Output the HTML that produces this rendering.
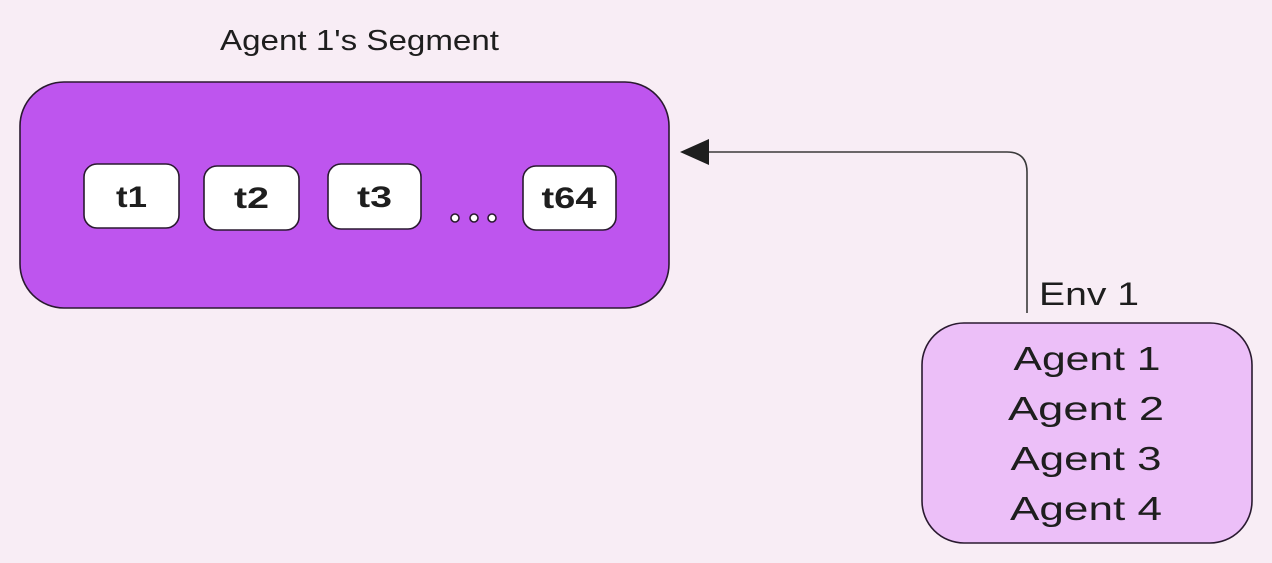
<!DOCTYPE html>
<html>
<head>
<meta charset="utf-8">
<style>
  html,body{margin:0;padding:0;background:#f8edf5;}
  svg{display:block;}
  text{font-family:"Liberation Sans","DejaVu Sans",sans-serif;fill:#1e1e1e;}
</style>
</head>
<body>
<svg width="1272" height="563" viewBox="0 0 1272 563" xmlns="http://www.w3.org/2000/svg">
  <rect x="0" y="0" width="1272" height="563" fill="#f8edf5"/>

  <!-- Title -->
  <text x="220" y="50" font-size="29" textLength="279" lengthAdjust="spacingAndGlyphs">Agent 1's Segment</text>

  <!-- Main segment box -->
  <rect x="20" y="82" width="649" height="226" rx="44" ry="44" fill="#be55ee" stroke="#2a1a30" stroke-width="1.6"/>

  <!-- Tokens -->
  <rect x="84" y="164" width="95" height="64" rx="13" fill="#ffffff" stroke="#2a1a30" stroke-width="1.6"/>
  <text x="131.5" y="207" font-size="30" text-anchor="middle" font-weight="bold" textLength="31" lengthAdjust="spacingAndGlyphs">t1</text>

  <rect x="204" y="166" width="95" height="64" rx="13" fill="#ffffff" stroke="#2a1a30" stroke-width="1.6"/>
  <text x="251.5" y="208" font-size="30" text-anchor="middle" font-weight="bold" textLength="35" lengthAdjust="spacingAndGlyphs">t2</text>

  <rect x="328" y="164" width="93" height="65" rx="13" fill="#ffffff" stroke="#2a1a30" stroke-width="1.6"/>
  <text x="374.5" y="207" font-size="30" text-anchor="middle" font-weight="bold" textLength="35" lengthAdjust="spacingAndGlyphs">t3</text>

  <circle cx="455" cy="218" r="4" fill="#ffffff" stroke="#2a1a30" stroke-width="1.6"/>
  <circle cx="474" cy="218" r="4" fill="#ffffff" stroke="#2a1a30" stroke-width="1.6"/>
  <circle cx="492" cy="218" r="4" fill="#ffffff" stroke="#2a1a30" stroke-width="1.6"/>

  <rect x="523" y="166" width="93" height="64" rx="13" fill="#ffffff" stroke="#2a1a30" stroke-width="1.6"/>
  <text x="569" y="208" font-size="30" text-anchor="middle" font-weight="bold" textLength="55" lengthAdjust="spacingAndGlyphs">t64</text>

  <!-- Connector -->
  <path d="M1027 313 L1027 172 Q1027 152 1007 152 L708 152" fill="none" stroke="#3a3a3a" stroke-width="1.6"/>
  <polygon points="680,152 709,139 709,165" fill="#1e1e1e"/>

  <!-- Env label -->
  <text x="1039" y="305" font-size="32" textLength="100" lengthAdjust="spacingAndGlyphs">Env 1</text>

  <!-- Env box -->
  <rect x="922" y="323" width="330" height="220" rx="42" ry="42" fill="#ecbff8" stroke="#2a1a30" stroke-width="1.6"/>
  <text x="1087" y="370" font-size="33" text-anchor="middle" textLength="147" lengthAdjust="spacingAndGlyphs">Agent 1</text>
  <text x="1086" y="420" font-size="33" text-anchor="middle" textLength="156" lengthAdjust="spacingAndGlyphs">Agent 2</text>
  <text x="1086" y="470" font-size="33" text-anchor="middle" textLength="151" lengthAdjust="spacingAndGlyphs">Agent 3</text>
  <text x="1086" y="520" font-size="33" text-anchor="middle" textLength="152" lengthAdjust="spacingAndGlyphs">Agent 4</text>
</svg>
</body>
</html>
